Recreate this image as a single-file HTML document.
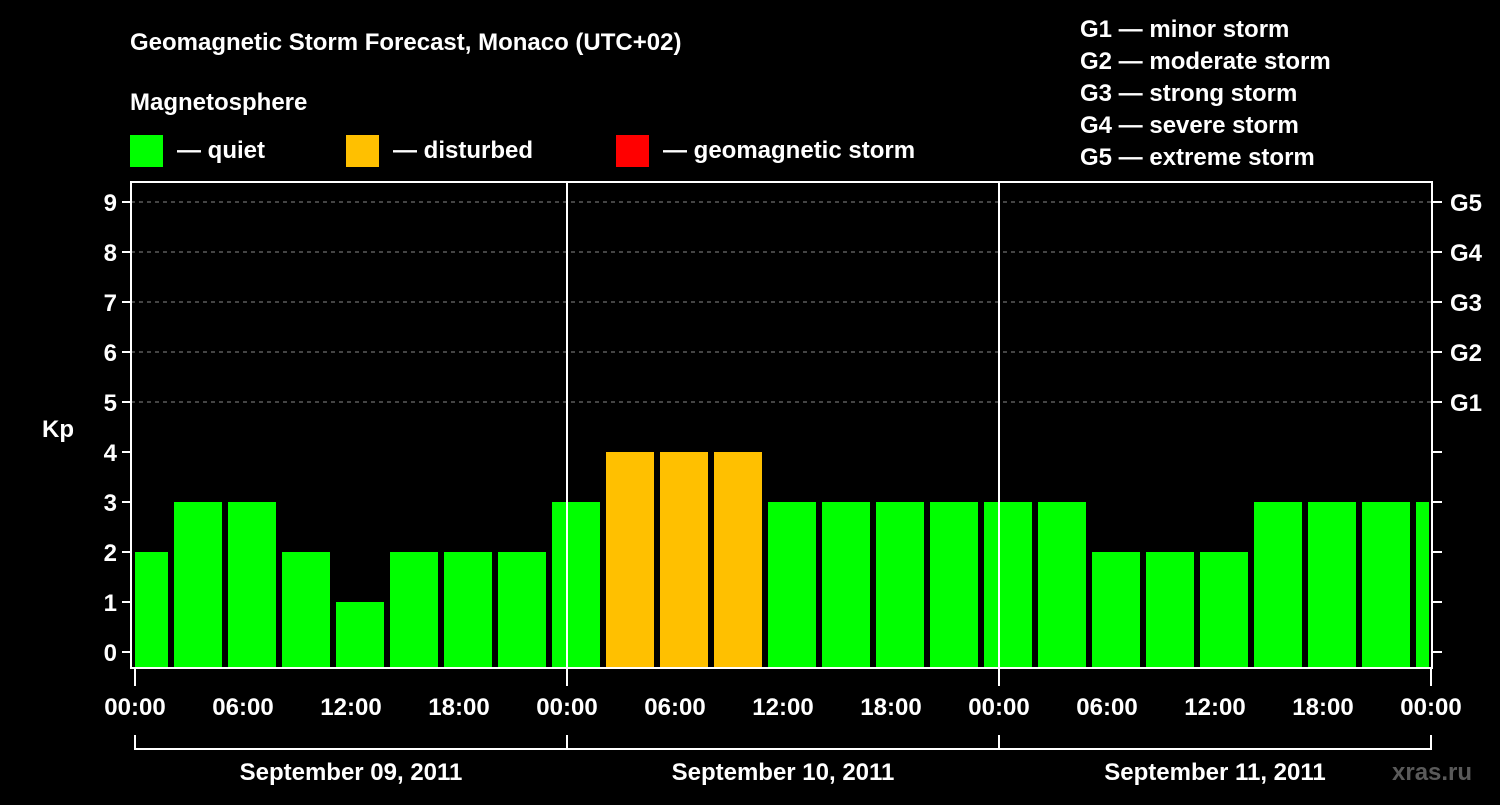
<!DOCTYPE html>
<html><head><meta charset="utf-8"><style>
body{margin:0;background:#000;}
svg text{font-family:"Liberation Sans",sans-serif;font-weight:bold;fill:#fff;}
</style></head><body>
<svg width="1500" height="800" viewBox="0 0 1500 800">
<rect width="1500" height="800" fill="#000"/>
<text x="130" y="50" font-size="24">Geomagnetic Storm Forecast, Monaco (UTC+02)</text>
<text x="130" y="110" font-size="24">Magnetosphere</text>
<g><rect x="130" y="135" width="33" height="32" fill="#00ff00"/><text x="177" y="158" font-size="24">— quiet</text></g>
<g><rect x="346" y="135" width="33" height="32" fill="#ffc000"/><text x="393" y="158" font-size="24">— disturbed</text></g>
<g><rect x="616" y="135" width="33" height="32" fill="#ff0000"/><text x="663" y="158" font-size="24">— geomagnetic storm</text></g>
<g font-size="24">
<text x="1080" y="37">G1 — minor storm</text>
<text x="1080" y="69">G2 — moderate storm</text>
<text x="1080" y="101">G3 — strong storm</text>
<text x="1080" y="133">G4 — severe storm</text>
<text x="1080" y="165">G5 — extreme storm</text>
</g>
<text x="42" y="437" font-size="24">Kp</text>
<text x="1392" y="780" font-size="24" fill="#666" style="fill:#5a5a5a">xras.ru</text>
<g id="chart"></g>
</svg>
<script>
const kpValues=[2,3,3,2,1,2,2,2,3,4,4,4,3,3,3,3,3,3,2,2,2,3,3,3,3];
const yTicks=[0,1,2,3,4,5,6,7,8,9];
const gLabels=["G1","G2","G3","G4","G5"];
const xTickLabels=["00:00","06:00","12:00","18:00","00:00","06:00","12:00","18:00","00:00","06:00","12:00","18:00","00:00"];
const dayLabels=["September 09, 2011","September 10, 2011","September 11, 2011"];
const NS="http://www.w3.org/2000/svg";
const g=document.getElementById('chart');
const L=131,R=1432,T=182,B=668,X0=135,HOUR=18;
const y=v=>652-50*v;
const x=h=>X0+HOUR*h;
function mk(t,a,txt){const e=document.createElementNS(NS,t);for(const k in a)e.setAttribute(k,a[k]);if(txt!==undefined)e.textContent=txt;g.appendChild(e);return e;}
// grid
for(let v=5;v<=9;v++){const e=mk('line',{x1:L,x2:R,y1:y(v),y2:y(v),stroke:'#888','stroke-width':1,'stroke-dasharray':'4,4'});

}
// bars
const cp=mk('clipPath',{id:'cp'});const cr=document.createElementNS(NS,'rect');cr.setAttribute('x',X0);cr.setAttribute('y',T);cr.setAttribute('width',x(72)-X0-2);cr.setAttribute('height',B-T);cp.appendChild(cr);
kpValues.forEach((v,i)=>{const c=v>=5?'#ff0000':(v>=4?'#ffc000':'#00ff00');
const left=x(3*i-5/6);
const e=mk('rect',{x:left,y:y(v),width:48,height:B-y(v),fill:c,'clip-path':'url(#cp)'});

});
// day separators
[24,48].forEach(h=>{const e=mk('line',{x1:x(h),x2:x(h),y1:T,y2:B,stroke:'#fff','stroke-width':2});

});
// frame
const fr=mk('rect',{x:L,y:T,width:R-L,height:B-T,fill:'none',stroke:'#fff','stroke-width':2});


// y ticks
yTicks.forEach(v=>{mk('line',{x1:122,x2:L,y1:y(v),y2:y(v),stroke:'#fff','stroke-width':2});
mk('line',{x1:R,x2:1442,y1:y(v),y2:y(v),stroke:'#fff','stroke-width':2});
const t=mk('text',{x:117,y:y(v)+9,'font-size':24,'text-anchor':'end'},v);

});
gLabels.forEach((s,i)=>{const t=mk('text',{x:1450,y:y(5+i)+9,'font-size':24},s);

});
// x ticks
xTickLabels.forEach((s,i)=>{const xx=x(6*i);
if(i%4===0) mk('line',{x1:xx,x2:xx,y1:B,y2:686,stroke:'#fff','stroke-width':2});
const t=mk('text',{x:xx,y:715,'font-size':24,'text-anchor':'middle'},s);

});
// day bracket
mk('line',{x1:x(0),x2:x(72),y1:749,y2:749,stroke:'#fff','stroke-width':2});
[0,24,48,72].forEach(h=>mk('line',{x1:x(h),x2:x(h),y1:735,y2:750,stroke:'#fff','stroke-width':2}));
dayLabels.forEach((s,i)=>{const t=mk('text',{x:x(24*i+12),y:780,'font-size':24,'text-anchor':'middle'},s);

});
</script>
</body></html>
